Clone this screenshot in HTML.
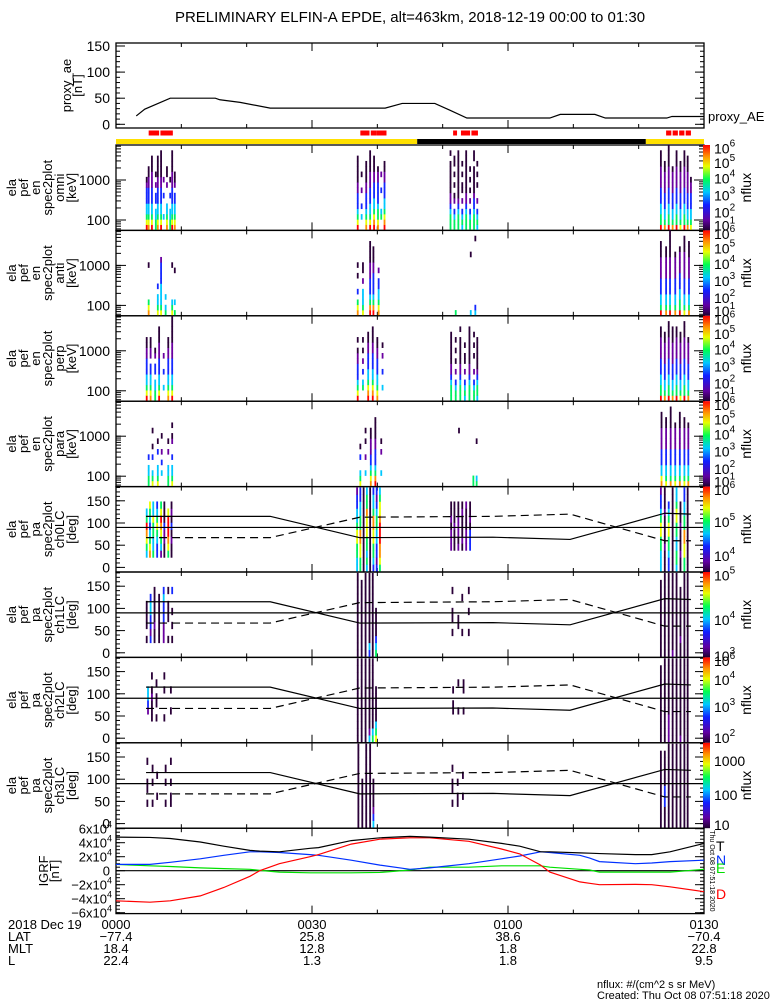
<!DOCTYPE html>
<html><head><meta charset="utf-8"><style>
html,body{margin:0;padding:0;background:#fff;}
svg{display:block;font-family:"Liberation Sans",sans-serif;}
text{fill:#000;}
</style></head><body>
<svg id="c" width="775" height="1000" viewBox="0 0 775 1000" xmlns="http://www.w3.org/2000/svg">
<defs>
<linearGradient id="cmap" x1="0" y1="1" x2="0" y2="0">
<stop offset="0" stop-color="#200030"/><stop offset="0.12" stop-color="#6000a0"/><stop offset="0.3" stop-color="#1020ff"/><stop offset="0.45" stop-color="#00c8ff"/><stop offset="0.6" stop-color="#00ff50"/><stop offset="0.75" stop-color="#e8ff00"/><stop offset="0.87" stop-color="#ff9000"/><stop offset="1" stop-color="#ff0000"/>
</linearGradient>
</defs>
<text x="410" y="22" text-anchor="middle" font-size="15">PRELIMINARY ELFIN-A EPDE, alt=463km, 2018-12-19 00:00 to 01:30</text>
<g id="g"></g>
</svg>
<script>
// ---- data ----
const aeTimes=[3.1,4.4,8.3,15.2,15.9,19.0,23.6,41.2,43.8,48.8,51.1,53.7,66.4,68.0,73.3,74.9,84.3,85.1,90];
const aeValues=[16,29,50,50,47,42,31,31,40,40,27,12,12,19,19,12,12,15,15];
const sciZones=[[5.0,6.6],[6.8,8.7],[37.4,38.8],[39.0,39.9],[39.9,41.4],[51.6,52.2],[52.8,54.2],[54.4,55.4],[84.2,85.0],[85.2,86.0],[86.2,87.0],[87.2,88.0]];
const nightStart=46.1, nightEnd=81.1;
// energy spectrogram columns: [time(min), levels bottom->top over 16 bins, '.'=empty]
const omniCols=[[4.7,"8654433321......"],[5.0,"765443332211...."],[5.5,"86544333222111.."],[6.1,"5544.33.2.1....."],[6.4,"76544333221111.."],[6.9,"865443332211111."],[7.3,"..4...3..2......"],[7.8,"76544...2.11...."],[8.3,"5544..3..1......"],[8.6,"865443332221111."],[9.0,"7654433.211....."],
[37.0,"86543332211111.."],[37.6,"..4.3..2..1....."],[38.3,"7654333221111..."],[38.9,"865443332221111."],[39.5,"87654433322111.."],[40.1,"765543333221...."],[40.6,"..54...3..2....."],[41.1,"8765443332211..."],
[51.2,"5554322111111.1."],[51.8,"5543.21.1.1.11.."],[52.4,"555432111111111."],[53.0,"4543.2.11.1.1..."],[53.6,"555432211111111."],[54.2,"5543.2.1.1.1...."],[54.8,"555433211111.11."],[55.3,"4543.2..1.1.1..."],
[83.4,"855443332222111."],[84.0,"7544333222211..."],[84.6,"8554433322221111"],[85.2,"754433322221...."],[85.8,"855443332222111."],[86.4,"6544333222211..."],[87.0,"855443332222111."],[87.5,"75443332222111.."],[88.0,"6544333221......"]];
const antiCols=[[5.0,"765......1......"],[6.4,"6544.3.........."],[6.9,"65444433332....."],[7.6,"54.4............"],[8.6,"654......1......"],[9.0,"5.4.....1......."],
[37.0,"765.3..1.1......"],[37.8,"65444.2.11......"],[38.9,"87543332221111.."],[39.4,"8754333322111..."],[40.2,"7654433.2......."],
[52.0,"5..............."],[54.3,"4..........1...."],[55.0,"43............1."],
[83.4,"85443332222111.."],[84.2,"7544333222211..."],[84.8,"8544333222211111"],[85.6,"754433322221...."],[86.3,"8554433322221..."],[87.0,"654433322222111."],[87.7,"75443332222111.."]];
const perpCols=[[4.7,"865443332211...."],[5.3,"7654433.2211...."],[6.0,"5544.33.21......"],[6.6,"86544333222111.."],[7.3,"..4..3..2......."],[8.0,"765443332211...."],[8.6,"8654433322211111"],
[37.0,"8654333221.1...."],[37.8,"..54.3.2.1.1...."],[38.6,"8765443332211..."],[39.3,"87654433322111.."],[40.0,"765443332211...."],[40.8,"..4..3..2.1....."],
[51.3,"5554322111111..."],[52.0,"5543.2.1.1.1...."],[52.7,"555432211111.1.."],[53.4,"4543.2.11.1....."],[54.1,"55543221111111.."],[54.8,"5543.2..1.1.1..."],[55.3,"455432111111...."],
[83.4,"85544333222211.."],[84.0,"7544333222211..."],[84.6,"855443332222111."],[85.2,"75443332222111.."],[85.8,"85544333222211.."],[86.4,"6544333222211..."],[87.0,"855443332222111."],[87.6,"754433322221...."]];
const paraCols=[[5.0,"5544.3.........."],[5.6,"654..3.1..1....."],[6.4,"6544..3.1......."],[7.0,"..4.3.2..1......"],[8.0,"5544..2.1......."],[8.6,"6544.3..21.1...."],
[37.4,"654..3.1........"],[38.2,"..4..2..1.1....."],[39.0,"76543322211....."],[39.7,"8754333221111..."],[40.6,"..4...2.1......."],
[52.5,"..........1....."],[54.7,"55.............."],[55.2,"54......1......."],
[83.5,"76443332222111.."],[84.2,"6544333222211..."],[84.9,"754433322221111."],[85.6,"654433322221...."],[86.3,"75443332222111.."],[87.0,"6544333222211..."],[87.6,"754433322221...."]];
// pitch-angle columns: [time, levels bottom->top over 12 bins from -9 to 180 deg]
const ch0Cols=[[4.7,"..4567854..."],[5.2,"..76543456.."],[5.7,"..54455644.."],[6.3,"..33456543.."],[6.9,"..24567865.."],[7.4,"..11223111.."],[8.0,"..5678886..."],[8.5,"..11213121.."],
[36.9,"445566544332"],[37.4,"556677554433"],[37.9,"111111111111"],[38.4,"454556667554"],[38.9,"111111111111"],[39.4,"345566775443"],[39.9,"323344554323"],[40.4,"567788876654"],
[51.3,"...2221211.."],[51.8,"...1112111.."],[52.4,"...2122211.."],[53.0,"...1211121.."],[53.6,"...2221112.."],[54.2,"...3331211.."],
[83.4,"444556654332"],[84.0,"111211112111"],[84.6,"3345566543.."],[85.2,"111111111111"],[85.8,"455445566544"],[86.4,"1121112111.."],[87.0,"556677554433"],[87.5,"111111111111"]];
const ch1Cols=[[4.7,"..1.1111...."],[5.3,"..3233443..."],[5.9,"..11211111.."],[6.6,"..1111111..."],[7.3,"..22233343.."],[8.0,"..1..111.1.."],[8.6,"..1.1.1..3.."],
[37.0,"111111111111"],[37.6,"11111111111."],[38.2,"111111111111"],[38.8,"341111111111"],[39.3,"111111111111"],[39.8,"5431111....."],
[51.5,"...1.11..1.."],[52.4,"....11......"],[53.0,"...1....1..."],[54.0,"...1..1..1.."],
[83.4,"11111111111."],[84.0,"111111111111"],[84.6,"111111111111"],[85.2,"211111111111"],[85.8,"111111111111"],[86.4,"1121111111.."],[87.0,"111111111111"],[87.5,"111111111111"]];
const ch2Cols=[[4.9,"....2344...."],[5.5,"...11121.1.."],[6.2,"...1.11.1..."],[7.4,"...1...1.1.."],[8.4,"....1..1...."],
[37.0,"111111111111"],[37.6,"111111111111"],[38.2,"111111111111"],[38.8,"421111111111"],[39.3,"541111111111"],[39.8,"65411111...."],
[51.6,"....11.1...."],[52.4,"....1...1..."],[53.2,"....1..11..."],
[83.4,"11111111111."],[84.0,"111111111111"],[84.6,"222211111111"],[85.2,"111111111111"],[85.8,"111111111111"],[86.4,"211111111111"],[87.0,"111111111111"],[87.5,"111111111111"]];
const ch3Cols=[[4.8,"...1.11..1.."],[5.6,"...1..1.1..."],[6.3,"....1..1...."],[7.6,"...1..1.1..."],[8.4,"...11.1..1.."],
[37.1,"111111111111"],[37.7,"1111111....."],[38.3,"111111111111"],[38.9,"111111111111"],[39.4,"4321111....."],
[51.5,"...1.11.1..."],[52.3,"...11.1....."],[53.1,"....1..1...."],
[83.4,"11111111111."],[84.0,"11133311111."],[84.6,"111111111111"],[85.2,"111111111111"],[85.8,"111111111111"],[86.4,"111111111111"],[87.0,"111111111111"],[87.5,"111111111111"]];
const lcTimes=[4.6,23.6,37.3,57.7,69.5,84,88];
const lcSolid=[115,115,67,68,63,122,120];
const lcDashed=[67,67,113,115,120,60,60];
const igrfTimes=[0,5.2,8.3,12.9,16.5,20.5,22,25,29.7,31,36,40.4,45,48,54,59,61.8,65,66.4,71,72.5,74,79.5,82,84.8,90];
const igrfT=[48000,47500,46000,41000,35000,29000,28000,27000,32000,33000,43000,47000,49000,48000,45000,39000,35000,27000,27000,25500,25000,24500,23000,23000,27000,39000];
const igrfN=[9000,9000,12000,17000,22000,27000,27000,26000,23000,22000,15000,8000,2000,4000,10000,17000,21000,27000,26000,22000,18000,13000,10000,11000,13000,15000];
const igrfE=[9000,7000,6000,4000,3000,2000,500,-2000,-3000,-3000,-3000,-2500,1000,5000,5000,7000,7000,7000,5000,2000,1000,-2000,-2000,-2000,-2000,2000];
const igrfD=[-43000,-45000,-43000,-36000,-24000,-8000,0,10000,20000,23000,38000,45000,47000,47000,42000,31000,24000,8000,-2000,-16000,-18000,-20000,-19500,-20000,-23000,-30000];
const timeTicks=["0000","0030","0100","0130"];
const latVals=["-77.4","25.8","38.6","-70.4"];
const mltVals=["18.4","12.8","1.8","22.8"];
const lVals=["22.4","1.3","1.8","9.5"];

// ---- drawing ----
const NS="http://www.w3.org/2000/svg";
const G=document.getElementById('g');
const X0=116,X1=704;
const tx=t=>X0+t*(X1-X0)/90;
function el(tag,attrs,parent){const e=document.createElementNS(NS,tag);for(const k in attrs)e.setAttribute(k,attrs[k]);(parent||G).appendChild(e);return e;}
function txt(x,y,s,size,anchor,parent,extra){const e=el('text',Object.assign({x:x,y:y,'font-size':size,'text-anchor':anchor||'start'},extra||{}),parent);e.textContent=s;return e;}
const COL=['','#2a0038','#6a00a0','#1428ff','#00c8ff','#00f060','#e8ff00','#ff9000','#ff0000'];
const CW=1.8;

function frame(top,h,name){
  const g=el('g',{});
  
  
  el('rect',{x:X0,y:top,width:X1-X0,height:h,fill:'none',stroke:'#000','stroke-width':1.3},g);
  for(let m=0;m<=90;m+=10){const x=tx(m);const L=(m%30===0)?8:4;
    el('line',{x1:x,x2:x,y1:top+h,y2:top+h-L,stroke:'#000'},g);
    el('line',{x1:x,x2:x,y1:top,y2:top+L,stroke:'#000'},g);}
  return g;
}
function yticks(g,top,h,vals,fy,len){vals.forEach(v=>{const y=fy(v);if(y<top-0.5||y>top+h+0.5)return;
  el('line',{x1:X0,x2:X0+len,y1:y,y2:y,stroke:'#000'},g);el('line',{x1:X1,x2:X1-len,y1:y,y2:y,stroke:'#000'},g);});}
function leftLabel(lines,top,h,x0,dx,name){
  const g=el('g',{});
  
  
  const cy=top+h/2;
  lines.forEach((s,i)=>{const x=x0+i*dx;txt(x,cy,s,13,'middle',g,{transform:`rotate(-90 ${x} ${cy})`});});
}

// proxy AE panel
{const top=43,h=85;const g=frame(top,h,'proxy-ae');
 const fy=v=>124.3-v*0.522;
 const minor=[];for(let v=-10;v<=160;v+=10)minor.push(v);
 yticks(g,top,h,minor,fy,4);yticks(g,top,h,[0,50,100,150],fy,9);
 [0,50,100,150].forEach(v=>txt(110,fy(v)+5,String(v),14,'end',g));
 const line=el('polyline',{points:aeTimes.map((t,i)=>tx(t)+','+fy(aeValues[i])).join(' '),fill:'none',stroke:'#000','stroke-width':1.2});
 
 
 leftLabel(['proxy_ae','[nT]'],top,h,71,11,'proxy-ae-axis-title');
 const lg=txt(708,121,'proxy_AE',13,'start');
 
 
}
// science zone bars
sciZones.forEach(z=>{const r=el('rect',{x:tx(z[0]),y:130.5,width:tx(z[1])-tx(z[0]),height:5,fill:'#ff0000'});
 
 });
{const d1=el('rect',{x:X0,y:139,width:tx(nightStart)-X0,height:5,fill:'#ffe000'});
 
 
 const n=el('rect',{x:tx(nightStart),y:139,width:tx(nightEnd)-tx(nightStart),height:5,fill:'#000'});
 
 
 const d2=el('rect',{x:tx(nightEnd),y:139,width:X1-tx(nightEnd),height:5,fill:'#ffe000'});
 
 }

function colorbar(top,h,labels,name){
  const g=el('g',{});
  
  
  el('rect',{x:703,y:top,width:7,height:h,fill:'url(#cmap)'},g);
  labels.forEach(l=>{const y=top+h*(1-l[1]);const t=el('text',{x:714,y:y+6,'font-size':14},g);
    if(l[2]){t.appendChild(document.createTextNode(l[0]));const s=el('tspan',{dy:-7,'font-size':10},t);s.textContent=l[2];}
    else t.textContent=l[0];});
  txt(751,top+h/2,'nflux',14,'middle',g,{transform:`rotate(-90 751 ${top+h/2})`});
}

const PH=85.4;
const specTops=[145,230.4,315.8,401.2];
const specNames=['omni','anti','perp','para'];
const specData=[omniCols,antiCols,perpCols,paraCols];
const specBar=[[['10',0.97,'6'],['10',0.8,'5'],['10',0.62,'4'],['10',0.42,'3'],['10',0.22,'2'],['10',0.07,'1']]];
specTops.forEach((top,pi)=>{
  const g=frame(top,PH,'energy-'+specNames[pi]);
  const fy=le=>top+35+(3-le)*40;
  const cols=specData[pi];
  const binW=(3.875-1.75)/16;
  cols.forEach(c=>{const x=tx(c[0]);for(let b=0;b<c[1].length;b++){const ch=c[1][b];if(ch==='.')continue;
    const le0=1.75+b*binW;const y1=fy(le0+binW),y2=fy(le0);
    const r=el('rect',{x:x-CW/2,y:y1,width:CW,height:y2-y1+0.3,fill:COL[+ch]},g);
    
    }});
  const minor=[];[10,100,1000].forEach(d=>{for(let k=1;k<10;k++)minor.push(Math.log10(d*k));});
  yticks(g,top,PH,minor,fy,5);yticks(g,top,PH,[2,3],fy,10);
  txt(110,fy(3)+5,'1000',14,'end',g);txt(110,fy(2)+5,'100',14,'end',g);
  leftLabel(['ela','pef','en','spec2plot',specNames[pi],'[keV]'],top,PH,16,12,'energy-'+specNames[pi]+'-axis-title');
  colorbar(top,PH,specBar[0],'energy-'+specNames[pi]);
});

const paTops=[486.6,572,657.4,742.8];
const paNames=['ch0LC','ch1LC','ch2LC','ch3LC'];
const paData=[ch0Cols,ch1Cols,ch2Cols,ch3Cols];
const paBars=[[['10',0.97,'6'],['10',0.6,'5'],['10',0.2,'4']],
 [['10',0.97,'5'],['10',0.45,'4'],['10',0.03,'3']],
 [['10',0.97,'6'],['10',0.75,'4'],['10',0.43,'3'],['10',0.07,'2']],
 [['1000',0.8],['100',0.4],['10',0.05]]];
paTops.forEach((top,pi)=>{
  const g=frame(top,PH,'pitch-'+paNames[pi]);
  const fy=d=>top+80.8-d*0.444;
  const binW=189/12;
  paData[pi].forEach(c=>{const x=tx(c[0]);for(let b=0;b<c[1].length;b++){const ch=c[1][b];if(ch==='.')continue;
    const d0=-9+b*binW;const y1=Math.max(top,fy(d0+binW)),y2=Math.min(top+PH,fy(d0));
    const r=el('rect',{x:x-CW/2,y:y1,width:CW,height:y2-y1+0.3,fill:COL[+ch]},g);
    
    }});
  const minor=[];for(let v=0;v<=180;v+=10)minor.push(v);
  yticks(g,top,PH,minor,fy,4);yticks(g,top,PH,[0,50,100,150],fy,9);
  [0,50,100,150].forEach(v=>txt(110,fy(v)+5,String(v),14,'end',g));
  el('line',{x1:X0,x2:X1,y1:fy(90),y2:fy(90),stroke:'#000','stroke-width':1.2},g);
  const s=el('polyline',{points:lcTimes.map((t,i)=>tx(t)+','+fy(lcSolid[i])).join(' '),fill:'none',stroke:'#000','stroke-width':1.2},g);
  
  
  const d=el('polyline',{points:lcTimes.map((t,i)=>tx(t)+','+fy(lcDashed[i])).join(' '),fill:'none',stroke:'#000','stroke-width':1.2,'stroke-dasharray':'8,5'},g);
  
  
  leftLabel(['ela','pef','pa','spec2plot',paNames[pi],'[deg]'],top,PH,16,12,'pitch-'+paNames[pi]+'-axis-title');
  colorbar(top,PH,paBars[pi],'pitch-'+paNames[pi]);
});

// IGRF panel
{const top=828.2,h=85.4;const g=frame(top,h,'igrf');
 const fy=v=>870.7-v*7e-4;
 const minor=[];for(let v=-60000;v<=60000;v+=5000)minor.push(v);
 yticks(g,top,h,minor,fy,4);yticks(g,top,h,[-60000,-40000,-20000,0,20000,40000,60000],fy,9);
 [-6,-4,-2,2,4,6].forEach(k=>{const t=el('text',{x:112,y:fy(k*10000)+5,'font-size':13,'text-anchor':'end'},g);
   t.appendChild(document.createTextNode((k<0?'\u2212':'')+Math.abs(k)+'x10'));const s=el('tspan',{dy:-6,'font-size':9},t);s.textContent='4';});
 txt(110,fy(0)+5,'0',13,'end',g);
 el('line',{x1:X0,x2:X1,y1:fy(0),y2:fy(0),stroke:'#000','stroke-width':1.2},g);
 [[igrfE,'#00e000','igrf-e-line'],[igrfN,'#0030ff','igrf-n-line'],[igrfD,'#ff0000','igrf-d-line'],[igrfT,'#000','igrf-t-line']].forEach(s=>{
   const p=el('polyline',{points:igrfTimes.map((t,i)=>tx(t)+','+fy(s[0][i])).join(' '),fill:'none',stroke:s[1],'stroke-width':1.2},g);
   
   });
 leftLabel(['IGRF','[nT]'],top,h,48,11,'igrf-axis-title');
 [['T',846,'#000'],['N',860,'#0030ff'],['E',868,'#00e000'],['D',894,'#ff0000']].forEach(l=>{const t=txt(716,l[1]+5,l[0],14,'start',g,{fill:l[2]});t.style.fill=l[2];});
 txt(710,top+h/2,'Thu Oct 08 07:51:18 2020',7,'middle',g,{transform:`rotate(90 710 ${top+h/2})`});
}

// bottom annotations
{const g=el('g',{});
 
 
 txt(8,929,'2018 Dec 19',13,'start',g);txt(8,941,'LAT',13,'start',g);txt(8,953,'MLT',13,'start',g);txt(8,965,'L',13,'start',g);
 timeTicks.forEach((s,i)=>{const x=tx(i*30);txt(x,929,s,13,'middle',g);txt(x,941,latVals[i].replace('-','\u2212'),13,'middle',g);
   txt(x,953,mltVals[i],13,'middle',g);txt(x,965,lVals[i],13,'middle',g);});
 txt(597,988,'nflux: #/(cm^2 s sr MeV)',11,'start',g);
 txt(597,999,'Created: Thu Oct 08 07:51:18 2020',11,'start',g);}
</script>
</body></html>
